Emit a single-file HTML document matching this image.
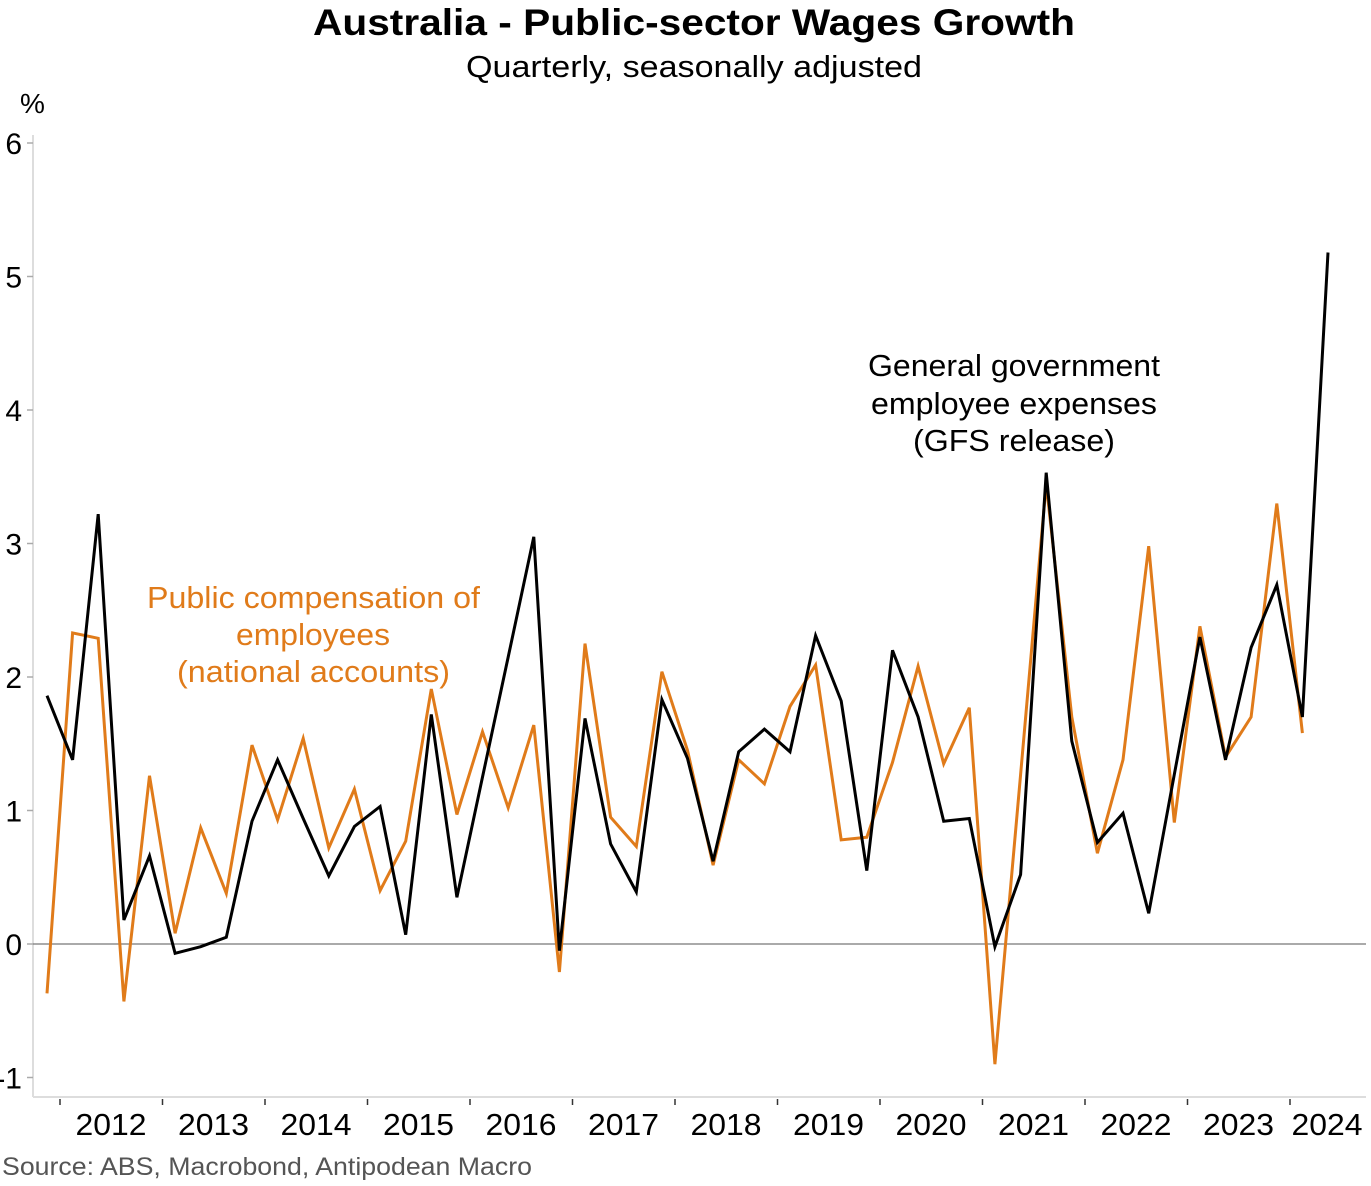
<!DOCTYPE html>
<html><head><meta charset="utf-8">
<style>
body{margin:0;background:#fff;}
svg{display:block;font-family:"Liberation Sans",Arial,sans-serif;}
</style></head>
<body>
<svg id="chart" width="1371" height="1186" viewBox="0 0 1371 1186" xmlns="http://www.w3.org/2000/svg">
<text x="313" y="35" font-size="37" font-weight="bold" fill="#000" textLength="762" lengthAdjust="spacingAndGlyphs">Australia - Public-sector Wages Growth</text>
<text x="466" y="77" font-size="31" fill="#000" textLength="456" lengthAdjust="spacingAndGlyphs">Quarterly, seasonally adjusted</text>
<text x="20" y="113" font-size="28" fill="#000">%</text>
<g id="axes"></g>
<g id="series"></g>
<text font-size="31" fill="#e07b1a">
<tspan x="147" y="608" textLength="333" lengthAdjust="spacingAndGlyphs">Public compensation of</tspan>
<tspan x="236" y="645" textLength="154" lengthAdjust="spacingAndGlyphs">employees</tspan>
<tspan x="177" y="682" textLength="273" lengthAdjust="spacingAndGlyphs">(national accounts)</tspan>
</text>
<text font-size="31" fill="#000">
<tspan x="868" y="376" textLength="292" lengthAdjust="spacingAndGlyphs">General government</tspan>
<tspan x="871" y="414" textLength="286" lengthAdjust="spacingAndGlyphs">employee expenses</tspan>
<tspan x="913" y="451" textLength="202" lengthAdjust="spacingAndGlyphs">(GFS release)</tspan>
</text>
<text x="2" y="1175" font-size="25" fill="#555" textLength="530" lengthAdjust="spacingAndGlyphs">Source: ABS, Macrobond, Antipodean Macro</text>
</svg>
<script>
const yTicks = [-1,0,1,2,3,4,5,6];
const years = ["2012","2013","2014","2015","2016","2017","2018","2019","2020","2021","2022","2023","2024"];
const gfs = [1.86,1.38,3.22,0.18,0.66,-0.07,-0.02,0.05,0.92,1.38,0.94,0.51,0.88,1.03,0.07,1.72,0.35,1.25,2.15,3.05,-0.05,1.69,0.75,0.39,1.83,1.39,0.62,1.44,1.61,1.44,2.31,1.82,0.55,2.2,1.7,0.92,0.94,-0.02,0.52,3.53,1.52,0.76,0.98,0.23,1.27,2.3,1.38,2.22,2.69,1.7,5.18];
const na = [-0.37,2.33,2.29,-0.43,1.26,0.08,0.87,0.38,1.49,0.93,1.54,0.72,1.16,0.4,0.77,1.91,0.97,1.59,1.02,1.64,-0.21,2.25,0.95,0.73,2.04,1.45,0.59,1.38,1.2,1.78,2.09,0.78,0.8,1.36,2.08,1.35,1.77,-0.9,1.27,3.45,1.7,0.68,1.38,2.98,0.91,2.38,1.4,1.7,3.3,1.58];

const NS="http://www.w3.org/2000/svg";
const yScale = v => 944 - 133.5*v;
const xScale = i => 47 + 25.62*i;
const yearX = k => 60 + 102.5*k;
const axes=document.getElementById('axes'), series=document.getElementById('series');
function mk(tag,attrs,parent){const e=document.createElementNS(NS,tag);for(const k in attrs)e.setAttribute(k,attrs[k]);parent.appendChild(e);return e;}

let e=mk('line',{x1:33,y1:135,x2:33,y2:1097,stroke:'#ddd','stroke-width':2},axes);


e=mk('line',{x1:33,y1:1097,x2:1366,y2:1097,stroke:'#ddd','stroke-width':2},axes);


e=mk('line',{x1:33,y1:yScale(0),x2:1366,y2:yScale(0),stroke:'#777','stroke-width':1.2},axes);



yTicks.forEach(v=>{
  const t=mk('line',{x1:27,y1:yScale(v),x2:33,y2:yScale(v),stroke:'#aaa','stroke-width':1.5},axes);
  
  
  const l=mk('text',{x:22,y:yScale(v)+11,'text-anchor':'end','font-size':30,fill:'#000'},axes);
  l.textContent=String(v);
  
  
});
years.forEach((y,k)=>{
  const t=mk('line',{x1:yearX(k),y1:1099,x2:yearX(k),y2:1105,stroke:'#333','stroke-width':1.5},axes);
  
  
  const l=mk('text',{x:k===years.length-1?1327:yearX(k)+51,y:1135,'text-anchor':'middle','font-size':31,fill:'#000',textLength:71,lengthAdjust:'spacingAndGlyphs'},axes);
  l.textContent=y;
  
  
});
function line(data,color,w,name){
  const p=mk('polyline',{points:data.map((v,i)=>xScale(i).toFixed(1)+','+yScale(v).toFixed(1)).join(' '),fill:'none',stroke:color,'stroke-width':w,'stroke-linejoin':'miter'},series);
  
  
}
line(na,'#e07b1a',3,'national-accounts-line');
line(gfs,'#000',3,'gfs-employee-expenses-line');
</script>
</body></html>
